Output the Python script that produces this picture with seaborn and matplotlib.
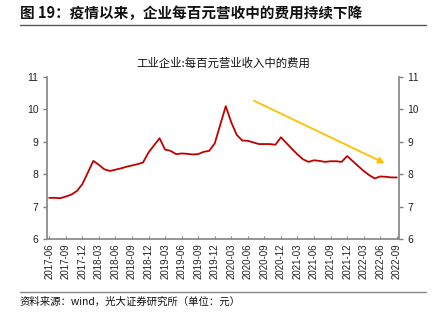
import matplotlib
matplotlib.use("Agg")
import matplotlib.pyplot as plt
import seaborn as sns
import pandas as pd

# ---- data ----
dates = [
    "2017-06", "2017-07", "2017-08", "2017-09", "2017-10", "2017-11", "2017-12",
    "2018-02", "2018-03", "2018-04", "2018-05", "2018-06", "2018-07", "2018-08", "2018-09", "2018-10", "2018-11", "2018-12",
    "2019-02", "2019-03", "2019-04", "2019-05", "2019-06", "2019-07", "2019-08", "2019-09", "2019-10", "2019-11", "2019-12",
    "2020-02", "2020-03", "2020-04", "2020-05", "2020-06", "2020-07", "2020-08", "2020-09", "2020-10", "2020-11", "2020-12",
    "2021-02", "2021-03", "2021-04", "2021-05", "2021-06", "2021-07", "2021-08", "2021-09", "2021-10", "2021-11", "2021-12",
    "2022-02", "2022-03", "2022-04", "2022-05", "2022-06", "2022-07", "2022-08", "2022-09",
]
values = [
    7.27, 7.27, 7.26, 7.31, 7.37, 7.48, 7.69,
    8.41, 8.29, 8.15, 8.10, 8.14, 8.18, 8.23, 8.27, 8.31, 8.36, 8.67,
    9.11, 8.76, 8.72, 8.62, 8.64, 8.63, 8.61, 8.62, 8.69, 8.72, 8.95,
    10.10, 9.60, 9.21, 9.04, 9.03, 8.98, 8.93, 8.93, 8.93, 8.91, 9.14,
    8.78, 8.61, 8.46, 8.38, 8.43, 8.41, 8.38, 8.40, 8.40, 8.38, 8.56,
    8.25, 8.10, 7.97, 7.87, 7.93, 7.92, 7.90, 7.90,
]
tick_labels = [
    "2017-06", "2017-09", "2017-12", "2018-03", "2018-06", "2018-09", "2018-12",
    "2019-03", "2019-06", "2019-09", "2019-12", "2020-03", "2020-06", "2020-09",
    "2020-12", "2021-03", "2021-06", "2021-09", "2021-12", "2022-03", "2022-06", "2022-09",
]
y_ticks = [6, 7, 8, 9, 10, 11]
arrow_start = ("2020-07", 10.27)
arrow_end = ("2022-06", 8.34)

fig_title = "图 19：疫情以来，企业每百元营收中的费用持续下降"
chart_title = "工业企业:每百元营业收入中的费用"
source = "资料来源：wind，光大证券研究所（单位：元）"

# ---- helpers ----
def month_index(s):
    y, m = s.split("-")
    return (int(y) - 2017) * 12 + int(m) - 6

df = pd.DataFrame({"date": dates, "value": values})
df["pos"] = [month_index(d) for d in dates]

sns.set_style("white")
plt.rcParams["font.family"] = ["Noto Sans CJK SC", "DejaVu Sans"]

fig = plt.figure(figsize=(4.41, 3.25), dpi=100)
ax = fig.add_axes([47 / 441, 1 - 239 / 325, (399 - 47) / 441, (239 - 77) / 325])

sns.lineplot(data=df, x="pos", y="value", ax=ax, color="#C00000", linewidth=1.3)

ax.set_xlim(-0.4, 63.4)
ax.set_ylim(6, 11)
ax.set_yticks(y_ticks)
ax.set_yticklabels([str(v) for v in y_ticks])
ax.set_xticks([month_index(t) for t in tick_labels])
ax.set_xticklabels(tick_labels, rotation=90)
ax.set_xlabel("")
ax.set_ylabel("")

for lab in ax.get_xticklabels() + ax.get_yticklabels():
    lab.set_family("Liberation Sans")
    lab.set_fontsize(7)
    lab.set_color("#222222")
ax.tick_params(axis="y", which="both", left=True, right=True, labelleft=True,
               labelright=True, direction="out", length=3, width=1, color="#808080",
               labelsize=7.5, pad=3)
ax.tick_params(axis="x", bottom=True, direction="in", length=2.5, width=0.8,
               color="#808080", pad=3)

for side in ["left", "right", "bottom"]:
    ax.spines[side].set_visible(True)
    ax.spines[side].set_color("#8c8c8c")
    ax.spines[side].set_linewidth(1.3)
ax.spines["top"].set_visible(False)

ax.annotate("", xy=(month_index(arrow_end[0]) + 0.8, arrow_end[1]),
            xytext=(month_index(arrow_start[0]) + 0.1, arrow_start[1]),
            arrowprops=dict(arrowstyle="-|>", color="#FFC000", lw=1.3,
                            mutation_scale=9, shrinkA=0, shrinkB=0))

ax.set_title(chart_title, fontsize=8.2, color="#111111", pad=7)

fig.text(20 / 441, 1 - 13 / 325, fig_title, fontsize=10.5, fontweight="bold",
         va="center", ha="left", color="#111111")
fig.add_artist(plt.Line2D([20 / 441, 426 / 441], [1 - 25 / 325, 1 - 25 / 325],
                          color="#555555", linewidth=1.0))
fig.add_artist(plt.Line2D([20 / 441, 426 / 441], [1 - 292 / 325, 1 - 292 / 325],
                          color="#888888", linewidth=1.0))
fig.text(20 / 441, 1 - 302 / 325, source, fontsize=7.5, va="center", ha="left",
         color="#111111")

fig.savefig("out.png", dpi=100)
